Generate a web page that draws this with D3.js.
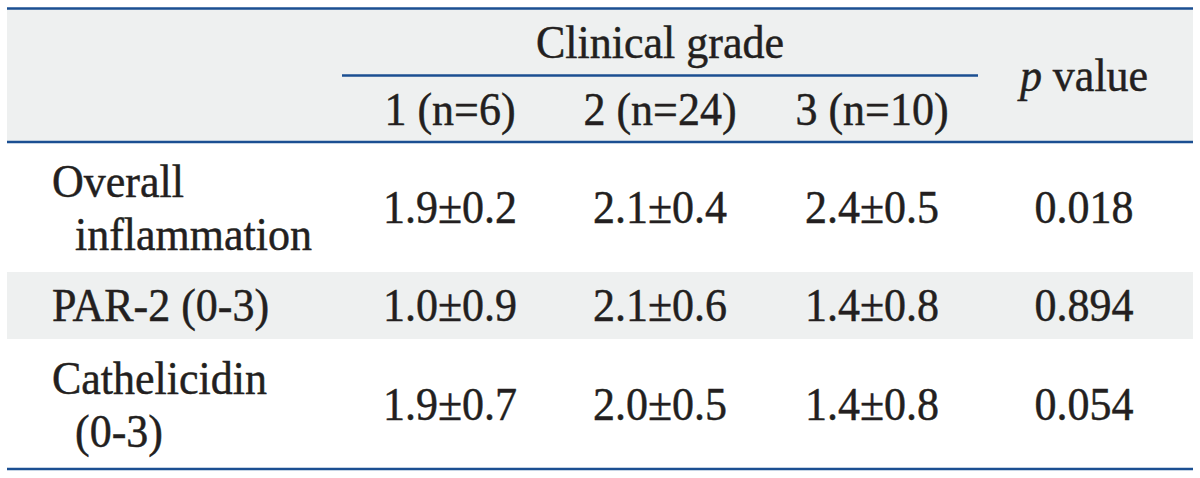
<!DOCTYPE html>
<html>
<head>
<meta charset="utf-8">
<script src="https://cdn.jsdelivr.net/npm/d3@7"></script>
<style>
  html, body { margin: 0; padding: 0; background: #ffffff; }
  svg { display: block; }
  text { font-family: "Liberation Serif", "Times New Roman", serif; fill: #231f20; stroke: #231f20; stroke-width: 0.45px; }
</style>
</head>
<body>
<svg id="chart" width="1200" height="478"></svg>
<script>
// ---- data ----
const spanHeader = "Clinical grade";
const groups = ["1 (n=6)", "2 (n=24)", "3 (n=10)"];
const pHeader = "value";
const rowLabels = [["Overall", "inflammation"], ["PAR-2 (0-3)"], ["Cathelicidin", "(0-3)"]];
const grade1 = ["1.9±0.2", "1.0±0.9", "1.9±0.7"];
const grade2 = ["2.1±0.4", "2.1±0.6", "2.0±0.5"];
const grade3 = ["2.4±0.5", "1.4±0.8", "1.4±0.8"];
const pValues = ["0.018", "0.894", "0.054"];

// ---- layout ----
const W = 1200, H = 478;
const left = 7, right = 1193;
const lineColor = "#1b4f92";
const shade = "#eef0f0";
const fs = 44, sy = 1.07;

const svg = d3.select("#chart");

const x = d3.scaleOrdinal().domain(groups).range([450, 660, 872]);
const pX = 1084;
const labelX = 52, indent = 23;

// row bands
const rowTop = [143, 272, 339];
const rowBot = [272, 339, 468];
const rowY = d3.scaleOrdinal().domain([0, 1, 2]).range([223, 321, 420]);

// header background
svg.append("rect").attr("x", left).attr("y", 9).attr("width", right - left).attr("height", 133).attr("fill", shade);
// shaded body row
rowLabels.forEach((r, i) => {
  if (i % 2 === 1) {
    svg.append("rect").attr("x", left).attr("y", rowTop[i]).attr("width", right - left)
      .attr("height", rowBot[i] - rowTop[i]).attr("fill", shade);
  }
});

// rules
const hline = (y, x1, x2, w) => svg.append("line").attr("x1", x1).attr("x2", x2)
  .attr("y1", y).attr("y2", y).attr("stroke", lineColor).attr("stroke-width", w);
hline(8.5, left, right, 2.6);
hline(142, left, right, 2.6);
hline(75.5, 342, 978, 2.4);
hline(469, left, right, 2.6);

function txt(xp, yp, s, anchor) {
  return svg.append("text")
    .attr("transform", `translate(${xp},${yp}) scale(1,${sy})`)
    .attr("text-anchor", anchor || "middle")
    .attr("font-size", fs)
    .text(s);
}

// header
txt(660, 58, spanHeader);
groups.forEach(g => txt(x(g), 125, g));
const ph = svg.append("text")
  .attr("transform", `translate(${pX},91) scale(1,${sy})`)
  .attr("text-anchor", "middle").attr("font-size", fs);
ph.append("tspan").attr("font-style", "italic").text("p");
ph.append("tspan").text(" " + pHeader);

// body
const cols = [grade1, grade2, grade3];
rowLabels.forEach((lab, i) => {
  const cy = rowY(i);
  if (lab.length === 1) {
    txt(labelX, cy, lab[0], "start");
  } else {
    txt(labelX, cy - 26, lab[0], "start");
    txt(labelX + indent, cy + 27, lab[1], "start");
  }
  cols.forEach((c, j) => txt(x(groups[j]), cy, c[i]));
  txt(pX, cy, pValues[i]);
});
</script>
</body>
</html>
